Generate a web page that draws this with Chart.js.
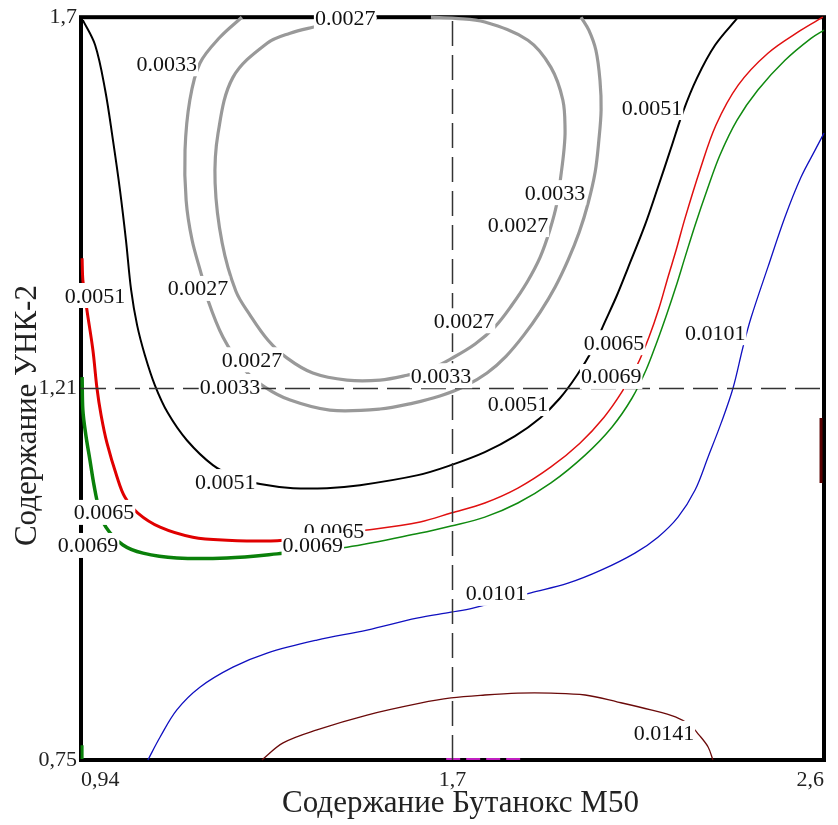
<!DOCTYPE html>
<html>
<head>
<meta charset="utf-8">
<script src="https://cdn.jsdelivr.net/npm/chart.js@4.4.1/dist/chart.umd.min.js"></script>
<style>
  html, body { margin: 0; padding: 0; background: #fff; }
  canvas { display: block; }
</style>
</head>
<body>
<canvas id="c" width="838" height="825"></canvas>
<script>
// Axes are in coded factor units (-1 .. 0 .. +1); the tick labels give the natural levels.
const xTickValues = [-1, 0, 1];
const xTickLabels = ['0,94', '1,7', '2,6'];
const yTickValues = [-1, 0, 1];
const yTickLabels = ['0,75', '1,21', '1,7'];

const xTitle = 'Содержание Бутанокс М50';
const yTitle = 'Содержание УНК-2';

// Iso-lines of the response surface, [x, y] in coded units.
const level0027 = [
  [-0.203, 0.997], [-0.289, 0.992], [-0.376, 0.973], [-0.437, 0.957], [-0.499, 0.930],
  [-0.591, 0.838], [-0.631, 0.688], [-0.639, 0.553], [-0.620, 0.392], [-0.583, 0.262],
  [-0.545, 0.198], [-0.497, 0.131], [-0.445, 0.082], [-0.376, 0.042], [-0.284, 0.023],
  [-0.195, 0.023], [-0.122, 0.036], [-0.061, 0.052], [-0.001, 0.082], [0.061, 0.120],
  [0.114, 0.166], [0.160, 0.225], [0.201, 0.287], [0.236, 0.354], [0.262, 0.427],
  [0.281, 0.499], [0.292, 0.575], [0.300, 0.642], [0.303, 0.696], [0.297, 0.777],
  [0.265, 0.865], [0.203, 0.938], [0.087, 0.987], [0.007, 0.997], [-0.058, 1.000]
];
const level0033 = [
  [-0.567, 1.000], [-0.626, 0.946], [-0.680, 0.876], [-0.707, 0.777], [-0.720, 0.642],
  [-0.717, 0.507], [-0.701, 0.400], [-0.674, 0.300], [-0.661, 0.246], [-0.618, 0.139],
  [-0.559, 0.050], [-0.505, 0.004], [-0.437, -0.031], [-0.330, -0.058], [-0.195, -0.055],
  [-0.106, -0.039], [-0.034, -0.020], [0.034, 0.007], [0.093, 0.042], [0.144, 0.087],
  [0.192, 0.144], [0.236, 0.206], [0.276, 0.273], [0.311, 0.346], [0.341, 0.421],
  [0.365, 0.499], [0.384, 0.583], [0.394, 0.669], [0.400, 0.750], [0.397, 0.830],
  [0.386, 0.911], [0.367, 0.965], [0.346, 1.000]
];
const level0051 = [
  [-0.995, 0.992], [-0.962, 0.925], [-0.935, 0.804], [-0.914, 0.669], [-0.895, 0.534],
  [-0.879, 0.400], [-0.865, 0.265], [-0.849, 0.171], [-0.828, 0.090], [-0.801, 0.009],
  [-0.766, -0.066], [-0.715, -0.139], [-0.645, -0.206], [-0.585, -0.238], [-0.518, -0.257],
  [-0.429, -0.268], [-0.338, -0.268], [-0.249, -0.260], [-0.093, -0.233], [-0.004, -0.206],
  [0.087, -0.171], [0.168, -0.128], [0.236, -0.079], [0.289, -0.026], [0.335, 0.036],
  [0.376, 0.104], [0.410, 0.179], [0.443, 0.252], [0.472, 0.324], [0.518, 0.440],
  [0.553, 0.542], [0.588, 0.647], [0.620, 0.744], [0.658, 0.836], [0.707, 0.925],
  [0.769, 1.000]
];
const level0065Left = [
  [-0.997, 0.351], [-0.995, 0.292], [-0.989, 0.249], [-0.984, 0.211], [-0.968, 0.104],
  [-0.957, 0.001], [-0.946, -0.071], [-0.930, -0.147], [-0.903, -0.238], [-0.882, -0.292],
  [-0.847, -0.335], [-0.787, -0.373], [-0.699, -0.400], [-0.607, -0.408], [-0.472, -0.410],
  [-0.410, -0.402]
];
const level0065Right = [
  [-0.410, -0.402], [-0.230, -0.381], [-0.087, -0.359], [-0.004, -0.335], [0.087, -0.308],
  [0.176, -0.268], [0.265, -0.211], [0.343, -0.147], [0.408, -0.077], [0.456, -0.009],
  [0.497, 0.063], [0.529, 0.139], [0.556, 0.217], [0.580, 0.300], [0.602, 0.373],
  [0.626, 0.459], [0.666, 0.588], [0.709, 0.709], [0.769, 0.817], [0.849, 0.903],
  [0.938, 0.965], [0.997, 1.000]
];
const level0069Left = [
  [-0.997, 0.031], [-0.995, -0.058], [-0.987, -0.125], [-0.976, -0.192], [-0.965, -0.260],
  [-0.952, -0.322], [-0.933, -0.373], [-0.887, -0.421], [-0.833, -0.443], [-0.742, -0.456],
  [-0.607, -0.456], [-0.472, -0.445], [-0.410, -0.437]
];
const level0069Right = [
  [-0.410, -0.437], [-0.284, -0.427], [-0.087, -0.389], [-0.004, -0.370], [0.087, -0.346],
  [0.176, -0.308], [0.265, -0.254], [0.357, -0.179], [0.429, -0.104], [0.483, -0.026],
  [0.521, 0.050], [0.550, 0.125], [0.577, 0.201], [0.602, 0.276], [0.626, 0.354],
  [0.653, 0.440], [0.685, 0.534], [0.720, 0.629], [0.766, 0.723], [0.822, 0.804],
  [0.895, 0.884], [0.965, 0.943], [1.000, 0.965]
];
const level0069Edge = [[-0.997, -0.960], [-0.997, -0.997]];
const level0101 = [
  [-0.820, -1.000], [-0.787, -0.938], [-0.742, -0.865], [-0.680, -0.804], [-0.591, -0.750],
  [-0.499, -0.712], [-0.365, -0.677], [-0.230, -0.650], [-0.096, -0.618], [-0.004, -0.602],
  [0.055, -0.591], [0.211, -0.550], [0.311, -0.524], [0.400, -0.489], [0.491, -0.443],
  [0.553, -0.400], [0.607, -0.346], [0.653, -0.273], [0.688, -0.184], [0.723, -0.093],
  [0.755, 0.001], [0.782, 0.112], [0.804, 0.192], [0.849, 0.327], [0.895, 0.462],
  [0.938, 0.569], [0.976, 0.642], [1.000, 0.688]
];
const level0141 = [
  [-0.513, -1.000], [-0.456, -0.954], [-0.365, -0.919], [-0.230, -0.879], [-0.087, -0.847],
  [-0.004, -0.833], [0.087, -0.825], [0.176, -0.820], [0.265, -0.820], [0.357, -0.825],
  [0.445, -0.844], [0.534, -0.865], [0.600, -0.884], [0.639, -0.906], [0.664, -0.933],
  [0.688, -0.965], [0.701, -1.000]
];
const level0141Edge = [[0.992, -0.079], [0.992, -0.254]];
const levelBottomEdge = [[-0.017, -0.997], [0.198, -0.997]];

// Centre point of the design (dashed cross-hair).
const centreV = [[0, -1], [0, 1]];
const centreH = [[-1, 0], [1, 0]];

// Level labels placed along the iso-lines.
const labelText = ['0.0027', '0.0033', '0.0051', '0.0027', '0.0027', '0.0033', '0.0033', '0.0027',
  '0.0033', '0.0027', '0.0051', '0.0065', '0.0069', '0.0051', '0.0101', '0.0051',
  '0.0065', '0.0065', '0.0069', '0.0069', '0.0101', '0.0141'];
const labelX = [-0.289, -0.769, -0.962, -0.685, -0.540, -0.599, -0.031, 0.031,
  0.276, 0.176, 0.537, 0.435, 0.427, 0.176, 0.707, -0.612,
  -0.938, -0.319, -0.981, -0.376, 0.117, 0.569];
const labelY = [1.000, 0.876, 0.252, 0.271, 0.079, 0.007, 0.036, 0.184,
  0.529, 0.443, 0.758, 0.125, 0.034, -0.039, 0.152, -0.249,
  -0.332, -0.381, -0.421, -0.421, -0.550, -0.927];

const serif = "'Liberation Serif', 'Times New Roman', serif";
const toPts = a => a.map(p => ({ x: p[0], y: p[1] }));

function line(data, color, width, extra) {
  return Object.assign({
    data: toPts(data), borderColor: color, borderWidth: width,
    showLine: true, pointRadius: 0, pointHoverRadius: 0, tension: 0.35,
    fill: false, clip: 4
  }, extra || {});
}

const framePlugin = {
  id: 'frame',
  beforeDatasetsDraw(chart) {
    const { ctx, chartArea: a } = chart;
    ctx.save();
    ctx.strokeStyle = '#000';
    ctx.lineWidth = 4;
    ctx.strokeRect(a.left, a.top, a.right - a.left, a.bottom - a.top);
    ctx.restore();
  }
};

const levelLabelPlugin = {
  id: 'levelLabels',
  afterDatasetsDraw(chart) {
    const { ctx, scales: { x, y } } = chart;
    ctx.save();
    ctx.font = '22px ' + serif;
    ctx.textAlign = 'center';
    ctx.textBaseline = 'alphabetic';
    labelText.forEach((t, i) => {
      const px = x.getPixelForValue(labelX[i]);
      const py = y.getPixelForValue(labelY[i]);
      const w = ctx.measureText(t).width;
      ctx.fillStyle = '#fff';
      ctx.fillRect(px - w / 2 - 1, py - 12, w + 2, 25);
      ctx.fillStyle = '#111';
      ctx.fillText(t, px, py + 7.5);
    });
    ctx.restore();
  }
};

const axisTitlePlugin = {
  id: 'axisTitles',
  afterDraw(chart) {
    const { ctx, chartArea: a } = chart;
    ctx.save();
    ctx.font = '31px ' + serif;
    ctx.fillStyle = '#222';
    ctx.textAlign = 'center';
    ctx.textBaseline = 'alphabetic';
    ctx.fillText(xTitle, (a.left + a.right) / 2 + 8, 812);
    ctx.translate(36, (a.top + a.bottom) / 2 + 27);
    ctx.rotate(-Math.PI / 2);
    ctx.fillText(yTitle, 0, 0);
    ctx.restore();
  }
};

const tickFont = { family: serif, size: 22 };

new Chart(document.getElementById('c'), {
  type: 'scatter',
  data: {
    datasets: [
      line(centreV, '#333', 1.5, { borderDash: [25, 9], tension: 0 }),
      line(centreH, '#333', 1.5, { borderDash: [25, 9], tension: 0 }),
      line(level0141, '#6b0a0a', 1.3),
      line(level0101, '#1010c0', 1.3),
      line(level0069Right, '#108a10', 1.5),
      line(level0069Left, '#0a800a', 3.5),
      line(level0065Right, '#e01010', 1.5),
      line(level0065Left, '#e00000', 3),
      line(level0051, '#000', 2),
      line(level0033, '#999', 3.2),
      line(level0027, '#999', 3.2),
      line(level0069Edge, '#0a800a', 3, { tension: 0, clip: false }),
      line(level0141Edge, '#5a0000', 3, { tension: 0, clip: false }),
      line(levelBottomEdge, '#c020c0', 2, { tension: 0, clip: false, borderDash: [14, 6] })
    ]
  },
  options: {
    responsive: false,
    animation: false,
    devicePixelRatio: 1,
    layout: { padding: { top: 17, right: 14, left: 0, bottom: 0 } },
    plugins: { legend: { display: false }, tooltip: { enabled: false } },
    scales: {
      x: {
        type: 'linear', min: -1, max: 1,
        afterBuildTicks: s => { s.ticks = xTickValues.map(v => ({ value: v })); },
        afterFit: s => { s.height = 65; },
        grid: { display: false, drawTicks: false },
        border: { display: false },
        ticks: {
          align: 'inner', padding: 7, maxRotation: 0, autoSkip: false,
          font: tickFont, color: '#222',
          callback: (v, i) => xTickLabels[i]
        }
      },
      y: {
        type: 'linear', min: -1, max: 1,
        afterBuildTicks: s => { s.ticks = yTickValues.map(v => ({ value: v })); },
        afterFit: s => { s.width = 81; },
        grid: { display: false, drawTicks: false },
        border: { display: false },
        ticks: {
          padding: 4, autoSkip: false,
          font: tickFont, color: '#222',
          callback: (v, i) => yTickLabels[i]
        }
      }
    }
  },
  plugins: [framePlugin, levelLabelPlugin, axisTitlePlugin]
});
</script>
</body>
</html>
